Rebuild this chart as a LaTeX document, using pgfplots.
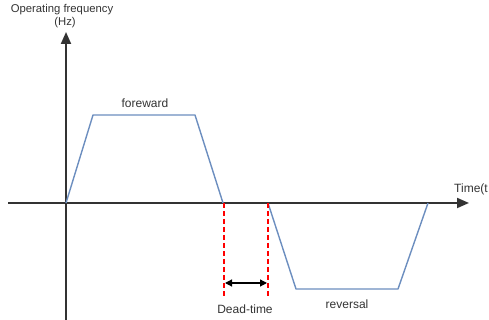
\documentclass[border=0pt]{standalone}
\usepackage{pgfplots}
\pgfplotsset{compat=1.18}
\usetikzlibrary{arrows.meta}
\usepackage{fontspec}
\setmainfont{Liberation Sans}

\definecolor{axisgray}{HTML}{333333}
\definecolor{trapblue}{HTML}{6C8EBF}

\tikzset{lbl/.style={font=\fontsize{12}{14}\selectfont, text=axisgray}}

\begin{document}
\begin{tikzpicture}
\begin{axis}[
width=489pt, height=320pt,
scale only axis,
hide axis,
clip=false,
xmin=-66, xmax=423,
ymin=-117, ymax=203,
]

% axes
\addplot[axisgray, line width=1.9pt, -{Stealth[length=12pt,width=10pt,inset=0pt]}]
coordinates {(-58,0)(403,0)};
\addplot[axisgray, line width=1.9pt, -{Stealth[length=12pt,width=10pt,inset=0pt]}]
coordinates {(0,-117)(0,171)};

% forward run
\addplot[trapblue, line width=1.4pt, line join=round]
coordinates {(0,0)(27,88)(129,88)(157,0)};

% reversal
\addplot[trapblue, line width=1.4pt, line join=round]
coordinates {(202,0)(230,-86)(332,-86)(362,0)};

% dead-time markers
\addplot[red, line width=1.1pt, dash pattern=on 5pt off 3pt]
coordinates {(158,0)(158,-94)};
\addplot[red, line width=1.1pt, dash pattern=on 5pt off 3pt]
coordinates {(202,0)(202,-94)};
\addplot[black, line width=1.2pt, {Stealth[length=7pt,width=7pt,inset=0pt]}-{Stealth[length=7pt,width=7pt,inset=0pt]}]
coordinates {(159,-80)(201,-80)};

\node[lbl, font=\fontsize{11.3}{13}\selectfont] at (axis cs:-4,193) {Operating frequency};
\node[lbl, font=\fontsize{11.3}{13}\selectfont] at (axis cs:-1,180) {(Hz)};
\node[lbl, anchor=west, inner sep=0pt] at (axis cs:388,14) {Time(t};
\node[lbl] at (axis cs:79,100) {foreward};
\node[lbl] at (axis cs:281,-101) {reversal};
\node[lbl] at (axis cs:179,-106) {Dead-time};

\end{axis}
\pgfresetboundingbox
\useasboundingbox (current axis.south west) rectangle (current axis.north east);
\end{tikzpicture}
\end{document}
